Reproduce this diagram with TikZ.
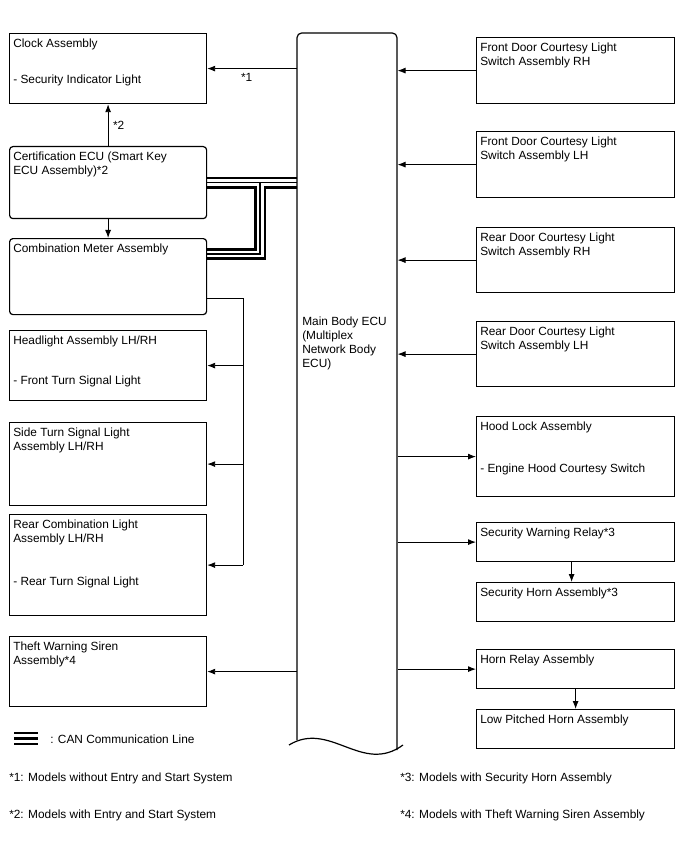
\documentclass[tikz,border=0pt]{standalone}
\usepackage{fontspec}
\setmainfont{Liberation Sans}
\usetikzlibrary{arrows.meta,positioning,calc,backgrounds}

\begin{document}
\begin{tikzpicture}[
  x=0.75pt, y=-0.75pt,
  >={Latex[length=6pt,width=4.5pt]},
  font=\fontsize{8.9}{10.5}\selectfont,
  lbox/.style   = {draw, line width=0.9pt, anchor=north west,
                   minimum width=147.75pt, inner sep=0pt},
  rbox/.style   = {lbox, minimum width=148.5pt},
  ecubox/.style = {lbox, rounded corners=2.5pt},
  txt/.style    = {align=left, inner xsep=3pt, inner ysep=4pt},
  arr/.style    = {->, line width=0.7pt},
  wire/.style   = {line width=0.7pt},
  note/.style   = {anchor=west, inner sep=0pt},
]
\useasboundingbox (0,0) rectangle (688,852);

% left column
\node[lbox, minimum height=52.5pt] (clock) at (9,33) {};
\node[txt, below right=0pt of clock.north west] (clock-t)
     {Clock Assembly\\[17pt]- Security Indicator Light};
\node[ecubox, minimum height=54pt] (cert) at (9,146) {};
\node[txt, below right=0pt of cert.north west] (cert-t)
     {Certification ECU (Smart Key\\ECU Assembly)*2};
\node[ecubox, minimum height=57pt] (meter) at (9,238) {};
\node[txt, below right=0pt of meter.north west] (meter-t)
     {Combination Meter Assembly};
\node[lbox, minimum height=52.5pt] (head) at (9,330) {};
\node[txt, below right=0pt of head.north west] (head-t)
     {Headlight Assembly LH/RH\\[20pt]- Front Turn Signal Light};
\node[lbox, minimum height=62.25pt] (side) at (9,422) {};
\node[txt, below right=0pt of side.north west] (side-t)
     {Side Turn Signal Light\\Assembly LH/RH};
\node[lbox, minimum height=75.75pt] (rear) at (9,514) {};
\node[txt, below right=0pt of rear.north west] (rear-t)
     {Rear Combination Light\\Assembly LH/RH\\[22pt]- Rear Turn Signal Light};
\node[lbox, minimum height=52.5pt] (siren) at (9,636) {};
\node[txt, below right=0pt of siren.north west] (siren-t)
     {Theft Warning Siren\\Assembly*4};

% right column
\node[rbox, minimum height=49.5pt] (frh) at (476,37) {};
\node[txt, below right=0pt of frh.north west] (frh-t)
     {Front Door Courtesy Light\\Switch Assembly RH};
\node[rbox, minimum height=49.5pt] (flh) at (476,131) {};
\node[txt, below right=0pt of flh.north west] (flh-t)
     {Front Door Courtesy Light\\Switch Assembly LH};
\node[rbox, minimum height=48.75pt] (rrh) at (476,227) {};
\node[txt, below right=0pt of rrh.north west] (rrh-t)
     {Rear Door Courtesy Light\\Switch Assembly RH};
\node[rbox, minimum height=48.75pt] (rlh) at (476,321) {};
\node[txt, below right=0pt of rlh.north west] (rlh-t)
     {Rear Door Courtesy Light\\Switch Assembly LH};
\node[rbox, minimum height=60pt] (hood) at (476,416) {};
\node[txt, below right=0pt of hood.north west] (hood-t)
     {Hood Lock Assembly\\[21pt]- Engine Hood Courtesy Switch};
\node[rbox, minimum height=29.25pt] (swr) at (476,522) {};
\node[txt, below right=0pt of swr.north west] (swr-t)
     {Security Warning Relay*3};
\node[rbox, minimum height=29.25pt] (shorn) at (476,582) {};
\node[txt, below right=0pt of shorn.north west] (shorn-t)
     {Security Horn Assembly*3};
\node[rbox, minimum height=29.25pt] (hrelay) at (476,649) {};
\node[txt, below right=0pt of hrelay.north west] (hrelay-t)
     {Horn Relay Assembly};
\node[rbox, minimum height=29.25pt] (lphorn) at (476,709) {};
\node[txt, below right=0pt of lphorn.north west] (lphorn-t)
     {Low Pitched Horn Assembly};

% main body ECU
\node[anchor=north west, minimum width=75pt, minimum height=534pt,
      inner sep=0pt] (ecu) at (297,33) {};
\draw[line width=0.9pt, rounded corners=3.5pt]
     (297,740) -- (297,33) -- (397,33) -- (397,750);
\draw[line width=0.9pt] (289,745) .. controls (330,720) and (362,775) .. (403,745);
\node[txt, anchor=north west] (ecu-t) at (298,311)
     {Main Body ECU\\(Multiplex\\Network Body\\ECU)};

% connectors
\draw[arr] (ecu.west |- clock.east) -- node[below, pos=0.56] {*1} (clock.east);
\draw[arr] (cert.north) -- node[right] {*2} (clock.south);
\draw[arr] (cert.south) -- (meter.north);
\foreach \n in {frh, flh, rrh, rlh}
  \draw[arr] (\n.west) -- (\n.west -| ecu.east);
\foreach \n in {hood, swr, hrelay}
  \draw[arr] (\n.west -| ecu.east) -- (\n.west);
\draw[arr] (siren.east -| ecu.west) -- (siren.east);
\draw[arr] ([xshift=-3pt]swr.south) -- ([xshift=-3pt]shorn.north);
\draw[arr] (hrelay.south) -- (lphorn.north);

\coordinate (tap) at ($(meter.south east)+(36,-17)$);
\draw[wire] (meter.east |- tap) -- (tap) -- (tap |- rear.east);
\foreach \n in {head, side, rear}
  \draw[arr] (tap |- \n.east) -- (\n.east);

% CAN lines
\coordinate (canj) at ($(meter.north east)+(53,16)$);
\begin{scope}[on background layer]
  \foreach \w/\c in {9pt/black, 5pt/white, 1.1pt/black} {
    \draw[line width=\w, draw=\c] (cert.east) -- (cert.east -| ecu.west);
    \draw[line width=\w, draw=\c] (meter.east |- canj) -- (canj) -- (canj |- cert.east);
  }
\end{scope}

% legend
\coordinate (lg) at (14,733);
\foreach \d in {0,5.5,11}
  \draw[line width=2pt] ($(lg)+(0,\d)$) -- ++(24,0);
\node[note] (lg-t) at (50,739) {: CAN Communication Line};

% notes
\node[note] (n1) at (9,778)   {*1: Models without Entry and Start System};
\node[note] (n2) at (9,815)   {*2: Models with Entry and Start System};
\node[note] (n3) at (400,778) {*3: Models with Security Horn Assembly};
\node[note] (n4) at (400,815) {*4: Models with Theft Warning Siren Assembly};
\end{tikzpicture}
\end{document}
